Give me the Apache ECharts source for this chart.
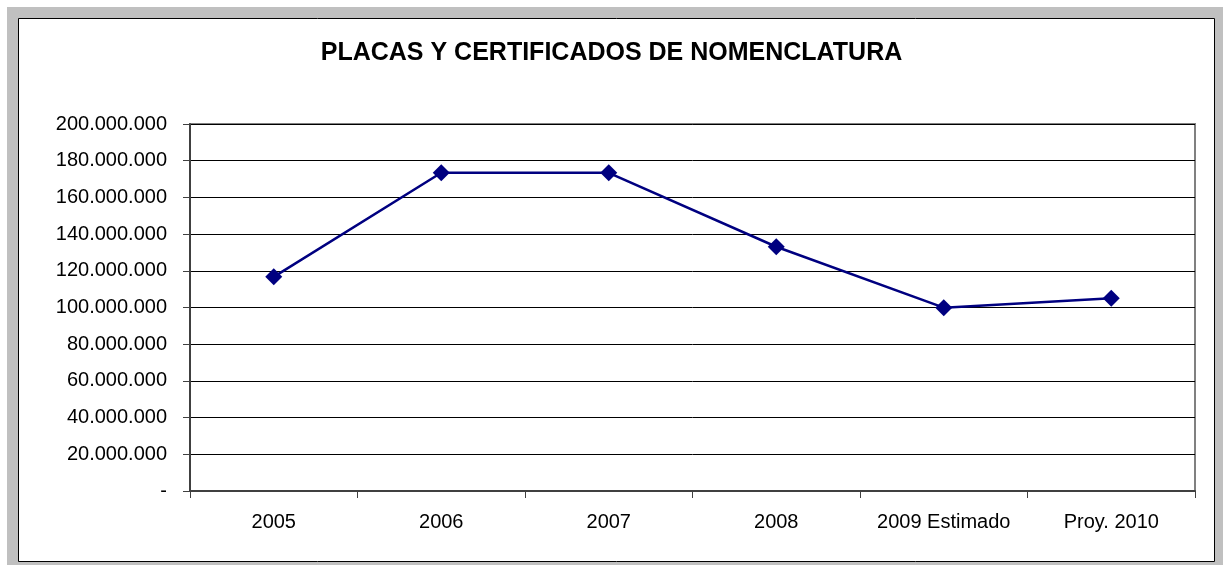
<!DOCTYPE html>
<html>
<head>
<meta charset="utf-8">
<script src="https://cdn.jsdelivr.net/npm/echarts@6/dist/echarts.min.js"></script>
<style>
  html, body { margin: 0; padding: 0; background: #fff; }
  #chart { width: 1223px; height: 565px; }
</style>
</head>
<body>
<div id="chart"></div>
<script>
// Chart data
const titleText = "PLACAS Y CERTIFICADOS DE NOMENCLATURA";
const categories = ["2005", "2006", "2007", "2008", "2009 Estimado", "Proy. 2010"];
const values = [116700000, 173400000, 173400000, 133100000, 99900000, 105000000];

let formatMiles = (v) => {
  if (v === 0) return "-";
  return String(Math.round(v)).replace(/\B(?=(\d{3})+(?!\d))/g, ".");
};

const chart = echarts.init(document.getElementById("chart"));

chart.setOption({
  animation: false,
  graphic: [
    // grey frame + white chart area with black border
    { type: "rect", z: -10, shape: { x: 7, y: 7, width: 1216, height: 558 }, style: { fill: "#c0c0c0" } },
    { type: "rect", z: -9, shape: { x: 18.5, y: 18.5, width: 1196, height: 543 }, style: { fill: "#fff", stroke: "#000", lineWidth: 1 } }
  ],
  title: {
    text: titleText,
    left: "center",
    top: 36,
    textStyle: { fontFamily: "Liberation Sans", fontSize: 25, fontWeight: "bold", color: "#000" }
  },
  grid: {
    left: 190, right: 28, top: 124, bottom: 74,
    show: true, borderColor: "#808080", borderWidth: 2, backgroundColor: "#fff"
  },
  xAxis: {
    type: "category",
    data: categories,
    boundaryGap: true,
    axisLine: { lineStyle: { color: "#404040", width: 2 } },
    axisTick: { show: true, interval: 0, length: 7, lineStyle: { color: "#404040", width: 1 } },
    axisLabel: { interval: 0, hideOverlap: false, margin: 21, fontFamily: "Liberation Sans", fontSize: 20, color: "#000" },
    splitLine: { show: false }
  },
  yAxis: {
    type: "value",
    min: 0,
    max: 200000000,
    interval: 20000000,
    axisLine: { show: true, lineStyle: { color: "#404040", width: 2 } },
    axisTick: { show: true, length: 7, lineStyle: { color: "#404040", width: 1 } },
    axisLabel: { margin: 23, fontFamily: "Liberation Sans", fontSize: 20, color: "#000", formatter: formatMiles },
    splitLine: { show: true, lineStyle: { color: "#000", width: 1 } }
  },
  series: [{
    type: "line",
    data: values,
    symbol: "diamond",
    symbolSize: 17,
    lineStyle: { color: "#000080", width: 2.5 },
    itemStyle: { color: "#000080" }
  }]
});
</script>
</body>
</html>
